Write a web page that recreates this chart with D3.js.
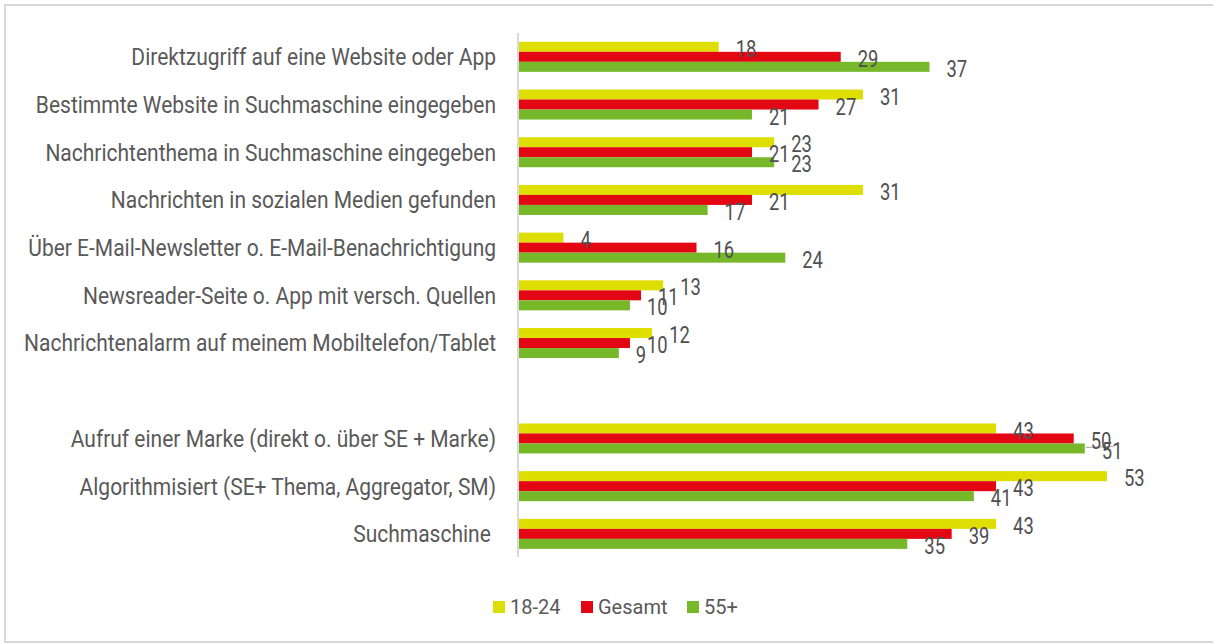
<!DOCTYPE html>
<html>
<head>
<meta charset="utf-8">
<script src="https://cdn.jsdelivr.net/npm/d3@7"></script>
<style>
  html, body { margin: 0; padding: 0; background: #fff; }
  svg text { font-family: "Roboto", "Noto Sans", sans-serif; fill: #595959; white-space: pre; }
</style>
</head>
<body>
<svg id="chart" width="1213" height="644"></svg>
<script>
// categories, top to bottom (empty string = spacer row)
const categories = [
  "Direktzugriff auf eine Website oder App",
  "Bestimmte Website in Suchmaschine eingegeben",
  "Nachrichtenthema in Suchmaschine eingegeben",
  "Nachrichten in sozialen Medien gefunden",
  "Über E-Mail-Newsletter o. E-Mail-Benachrichtigung",
  "Newsreader-Seite o. App mit versch. Quellen",
  "Nachrichtenalarm auf meinem Mobiltelefon/Tablet",
  "",
  "Aufruf einer Marke (direkt o. über SE + Marke)",
  "Algorithmisiert (SE+ Thema, Aggregator, SM)",
  "Suchmaschine "
];

const seriesNames = ["18-24", "Gesamt", "55+"];
const young   = [18, 31, 23, 31, 4, 13, 12, null, 43, 53, 43];
const overall = [29, 27, 21, 21, 16, 11, 10, null, 50, 43, 39];
const older   = [37, 21, 23, 17, 24, 10, 9, null, 51, 41, 35];
const colors  = ["#dede00", "#e30613", "#76b82a"];

const seriesValues = [young, overall, older];

// the source font is a condensed one, squeeze the text horizontally
const labelSqueeze = 0.875;
const valueSqueeze = 0.8;

const svg = d3.select("#chart");

// frame
svg.append("rect")
  .attr("x", 5).attr("y", 5)
  .attr("width", 1240).attr("height", 637)
  .attr("fill", "none")
  .attr("stroke", "#d9d9d9")
  .attr("stroke-width", 2);

const x = d3.scaleLinear().domain([0, 53]).range([519, 1107]);

const y = d3.scaleBand()
  .domain(d3.range(categories.length))
  .range([33, 33 + categories.length * 47.7])
  .paddingInner(0.371)
  .paddingOuter(0.185);

const sub = d3.scaleBand()
  .domain(d3.range(seriesNames.length))
  .range([0, y.bandwidth()]);

// category labels
svg.append("g")
  .selectAll("text")
  .data(categories)
  .join("text")
  .attr("transform", (d, i) => `translate(496,${y(i) + y.bandwidth() / 2}) scale(${labelSqueeze},1)`)
  .attr("dy", "0.35em")
  .attr("text-anchor", "end")
  .style("font-size", "24px")
  .text(d => d);

// flatten to one row per bar
const rows = [];
seriesValues.forEach((vals, s) => vals.forEach((v, i) => {
  if (v != null) rows.push({s, i, v});
}));

// bars
svg.append("g")
  .selectAll("rect")
  .data(rows)
  .join("rect")
  .attr("x", x(0))
  .attr("y", d => y(d.i) + sub(d.s))
  .attr("width", d => x(d.v) - x(0))
  .attr("height", sub.bandwidth())
  .attr("fill", d => colors[d.s]);

// leader line for the crowded "50" label
const li = 8;
svg.append("line")
  .attr("x1", x(older[li]) + 1)
  .attr("x2", x(overall[li]) + 40)
  .attr("y1", y(li) + sub(1) + sub.bandwidth() + 4)
  .attr("y2", y(li) + sub(1) + sub.bandwidth() + 3)
  .attr("stroke", "#a6a6a6")
  .attr("stroke-width", 1);

// value labels on top of all bars
svg.append("g")
  .selectAll("text")
  .data(rows)
  .join("text")
  .attr("transform", d => `translate(${x(d.v) + 17},${y(d.i) + sub(d.s) + sub.bandwidth() / 2 + 2}) scale(${valueSqueeze},1)`)
  .attr("dy", "0.35em")
  .style("font-size", "23px")
  .style("fill", "#505050")
  .text(d => d.v);

// axis line
svg.append("line")
  .attr("x1", 518).attr("x2", 518)
  .attr("y1", 33).attr("y2", 557)
  .attr("stroke", "#d9d9d9")
  .attr("stroke-width", 2);

// legend
const legendX = [493, 581, 687];
const legend = svg.append("g")
  .selectAll("g")
  .data(seriesNames)
  .join("g")
  .attr("transform", (d, i) => `translate(${legendX[i]},607)`);
legend.append("rect")
  .attr("x", 0).attr("y", -6)
  .attr("width", 12).attr("height", 12)
  .attr("fill", (d, i) => colors[i]);
legend.append("text")
  .attr("x", 17)
  .attr("dy", "0.35em")
  .style("font-size", "20px")
  .text(d => d);
</script>
</body>
</html>
